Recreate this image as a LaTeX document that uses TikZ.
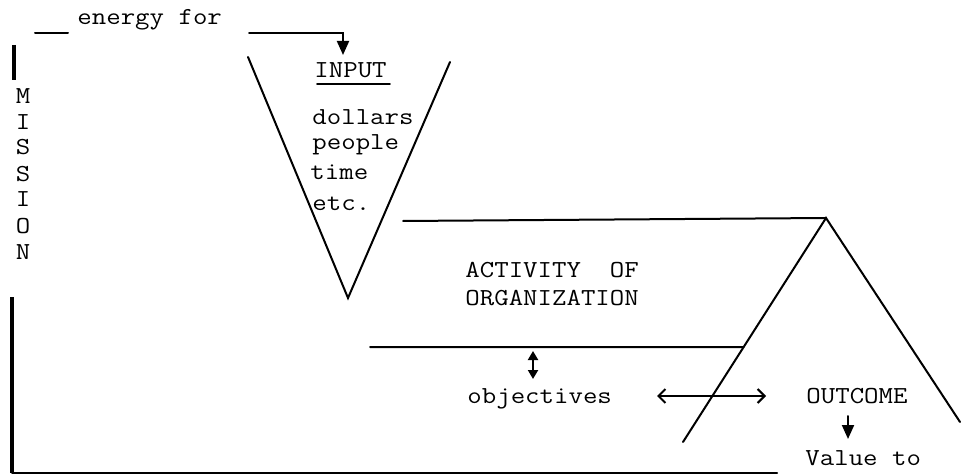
\documentclass[tikz,border=0pt]{standalone}
\usepackage{graphicx}
\usetikzlibrary{arrows.meta,calc}
% typewriter text, slightly widened
\newcommand{\tw}[1]{\scalebox{1.15}[1]{#1}}

\begin{document}
\begin{tikzpicture}[x=0.5pt,y=-0.5pt,
  line/.style={line width=1pt,line cap=round},
  bar/.style={line width=1.7pt},
  lbl/.style={anchor=base west,inner sep=0pt,font=\fontsize{12.2}{13}\selectfont\ttfamily},
  ltr/.style={anchor=base,inner sep=0pt,font=\fontsize{12.2}{13}\selectfont\ttfamily},
  downtip/.style={-{Triangle[length=7pt,width=6pt]}},
  bothtip/.style={{Triangle[length=4.5pt,width=5pt]}-{Triangle[length=4.5pt,width=5pt]}},
  barbtip/.style={{Straight Barb[length=3.5pt,width=7pt]}-{Straight Barb[length=3.5pt,width=7pt]}}
]
\useasboundingbox (0,0) rectangle (961,475);

% ---- energy feed into the input funnel
\node[lbl] (energy) at (77,25) {\tw{energy for}};
\coordinate (dashL) at (35,33);
\coordinate (dashR) at (68,33);
\draw[line] (dashL) -- (dashR);
\coordinate (feedL) at (249,33);
\coordinate (feedC) at (343,33);
\coordinate (feedT) at (343,55);
\draw[line,downtip] (feedL) -- (feedC) -- (feedT);

% ---- mission bracket
\coordinate (mTopA) at (14,45);
\coordinate (mTopB) at (14,80);
\draw[bar] (mTopA) -- (mTopB);
\foreach \ch/\yy [count=\i] in {M/104,I/130,S/155,S/182,I/207,O/234,N/260}
  \node[ltr] (mis\i) at (23,\yy) {\tw{\ch}};
\coordinate (mBotA) at (12,297);
\coordinate (mBotB) at (12,473);
\coordinate (baseR) at (777,473);
\draw[bar] (mBotA) -- (mBotB);
\draw[line] (mBotB) -- (baseR);

% ---- input funnel
\coordinate (inL) at (248,57);
\coordinate (inR) at (450,62);
\coordinate (inB) at (348,298);
\draw[line] (inL) -- (inB) -- (inR);
\node[lbl] (input) at (314,78) {\tw{INPUT}};
\coordinate (ulL) at (317,84);
\coordinate (ulR) at (390,84);
\draw[line,line width=0.8pt] (ulL) -- (ulR);
\node[lbl] (dollars) at (312,125) {\tw{dollars}};
\node[lbl] (people) at (312,150) {\tw{people}};
\node[lbl] (time) at (310,180) {\tw{time}};
\node[lbl] (etc) at (312,211) {\tw{etc.}};

% ---- outcome pyramid
\coordinate (outA) at (826,218);
\coordinate (outL) at (683,442);
\coordinate (outR) at (960,422);
\draw[line] (outL) -- (outA) -- (outR);

% ---- activity band
\coordinate (bandTL) at (403,221);
\draw[line] (bandTL) -- (outA);
\coordinate (bandBL) at (370,347);
\coordinate (bandBR) at ($(outL)!0.424!(outA)$);
\draw[line] (bandBL) -- (bandBR);
\node[lbl] (act) at (465,278) {\tw{ACTIVITY\ \ OF}};
\node[lbl] (org) at (465,305) {\tw{ORGANIZATION}};

% ---- objectives and outcome
\node[lbl] (obj) at (467,403) {\tw{objectives}};
\coordinate (vA) at (533,351);
\coordinate (vB) at (533,379);
\draw[line,bothtip] (vA) -- (vB);
\coordinate (hA) at (657,396);
\coordinate (hB) at (766,396);
\draw[line,barbtip] (hA) -- (hB);
\node[lbl] (outcome) at (806,403) {\tw{OUTCOME}};
\coordinate (oA) at (848,416);
\coordinate (oB) at (848,439);
\draw[line,downtip] (oA) -- (oB);
\node[lbl] (value) at (805,465) {\tw{Value to}};
\end{tikzpicture}
\end{document}
